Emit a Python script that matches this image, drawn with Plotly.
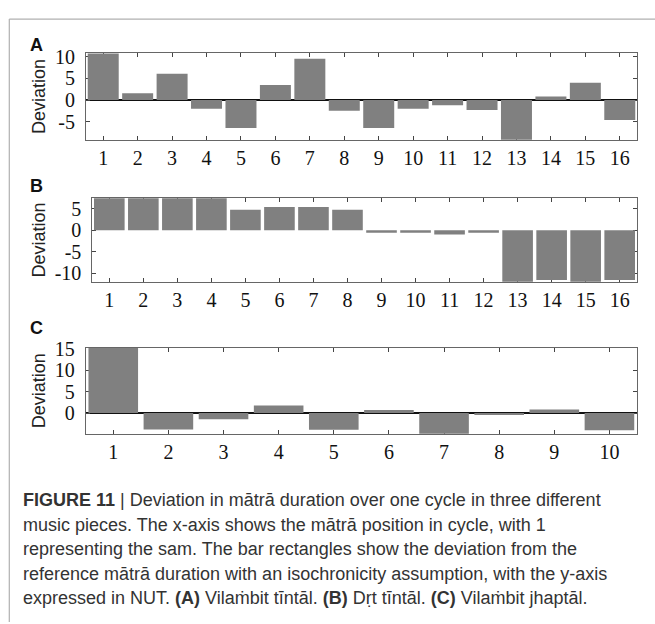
import plotly.graph_objects as go

# ---- data ----
pos_a = list(range(1, 17))
dev_a = [11.0, 1.6, 6.1, -2.0, -6.5, 3.5, 9.6, -2.5, -6.5, -2.0, -1.2, -2.3, -10.0, 0.8, 4.0, -4.6]
pos_b = list(range(1, 17))
dev_b = [8.0, 8.0, 8.0, 8.0, 4.8, 5.4, 5.4, 4.8, -0.6, -0.6, -1.0, -0.6, -12.5, -11.6, -12.5, -11.6]
pos_c = list(range(1, 11))
dev_c = [16.0, -3.8, -1.45, 1.8, -3.9, 0.7, -5.5, -0.2, 0.85, -4.0]
yticks_a = [-5, 0, 5, 10]
yticks_b = [-10, -5, 0, 5]
yticks_c = [0, 5, 10, 15]
panel_letters = ["A", "B", "C"]
y_title = "Deviation"
caption_lines = [
    "<b>FIGURE 11</b> | Deviation in mātrā duration over one cycle in three different",
    "music pieces. The x-axis shows the mātrā position in cycle, with 1",
    "representing the sam. The bar rectangles show the deviation from the",
    "reference mātrā duration with an isochronicity assumption, with the y-axis",
    "expressed in NUT. <b>(A)</b> Vilaṁbit tīntāl. <b>(B)</b> Dṛt tīntāl. <b>(C)</b> Vilaṁbit jhaptāl.",
]

W, H = 655, 624
def px(x):
    return x / W
def py(y):
    return 1 - y / H

BAR = "#808080"
SERIF = "Liberation Serif, Times New Roman, serif"
SANS = "Liberation Sans, Arial, sans-serif"

fig = go.Figure()
fig.add_trace(go.Bar(x=pos_a, y=dev_a, marker_color=BAR, marker_line_width=0, xaxis="x", yaxis="y", showlegend=False))
fig.add_trace(go.Bar(x=pos_b, y=dev_b, marker_color=BAR, marker_line_width=0, xaxis="x2", yaxis="y2", showlegend=False))
fig.add_trace(go.Bar(x=pos_c, y=dev_c, marker_color=BAR, marker_line_width=0, xaxis="x3", yaxis="y3", showlegend=False))

def xax(domain, n, anchor):
    return dict(domain=domain, anchor=anchor, range=[0.5, n + 0.5], tickvals=list(range(1, n + 1)),
                ticks="inside", ticklen=4, tickcolor="#444", showline=True, linecolor="#666", linewidth=1,
                mirror="ticks", showgrid=False, zeroline=False, layer="below traces",
                tickfont=dict(family=SERIF, size=20, color="#111"), fixedrange=True)

def yax(domain, rng, ticks, anchor, zl):
    return dict(domain=domain, anchor=anchor, range=rng, tickvals=ticks,
                ticktext=[str(t) for t in ticks],
                ticks="inside", ticklen=4, tickcolor="#444", showline=True, linecolor="#666", linewidth=1,
                mirror="ticks", showgrid=False, zeroline=zl, zerolinecolor="#111", zerolinewidth=1.5,
                layer="below traces", ticklabelstandoff=6,
                tickfont=dict(family=SERIF, size=20, color="#111"), fixedrange=True)

boxes = {
    "A": (86, 637, 44.3, 132.3),
    "B": (92.3, 636.7, 192, 277),
    "C": (85.7, 637, 344.5, 432),
}

def dom(b):
    x0, x1, y0, y1 = b
    return [px(x0), px(x1)], [py(y1), py(y0)]

dxa, dya = dom(boxes["A"])
dxb, dyb = dom(boxes["B"])
dxc, dyc = dom(boxes["C"])

fig.update_layout(
    width=W, height=H, autosize=False,
    margin=dict(l=0, r=0, t=0, b=0),
    paper_bgcolor="white", plot_bgcolor="white",
    bargap=0.1,
    xaxis=xax(dxa, 16, "y"), yaxis=yax(dya, [-9.2, 10.8], yticks_a, "x", True),
    xaxis2=xax(dxb, 16, "y2"), yaxis2=yax(dyb, [-12.0, 7.45], yticks_b, "x2", False),
    xaxis3=xax(dxc, 10, "y3"), yaxis3=yax(dyc, [-4.8, 15.2], yticks_c, "x3", True),
)

annotations = []
letter_pos = [(36, 36), (36.5, 179), (36, 324)]
for letter, (lx, ly) in zip(panel_letters, letter_pos):
    annotations.append(dict(text=f"<b>{letter}</b>", x=px(lx), y=py(ly), xref="paper", yref="paper",
                            xanchor="center", yanchor="middle", showarrow=False,
                            font=dict(family=SANS, size=18, color="#111")))
for key in ["A", "B", "C"]:
    x0, x1, y0, y1 = boxes[key]
    annotations.append(dict(text=y_title, x=px(38.5), y=py((y0 + y1) / 2), xref="paper", yref="paper",
                            xanchor="center", yanchor="middle", textangle=-90, showarrow=False,
                            font=dict(family=SANS, size=18, color="#222")))
cap_y = [500, 524.7, 549.7, 574.7, 599.7]
for line, cy in zip(caption_lines, cap_y):
    annotations.append(dict(text=line, x=px(21), y=py(cy), xref="paper", yref="paper",
                            xanchor="left", yanchor="middle", showarrow=False, align="left",
                            font=dict(family=SANS, size=18, color="#333")))
fig.update_layout(annotations=annotations)

fig.update_layout(shapes=[
    dict(type="line", xref="paper", yref="paper", x0=px(9.3), x1=1, y0=py(9.3), y1=py(9.3),
         line=dict(color="#b0b0b0", width=1.2)),
    dict(type="line", xref="paper", yref="paper", x0=px(9.3), x1=px(9.3), y0=py(9.3), y1=0,
         line=dict(color="#b0b0b0", width=1.2)),
])

fig.write_html("out.html", config={"displayModeBar": False},
               post_script="document.body.style.margin='0';document.body.style.overflow='hidden';")
